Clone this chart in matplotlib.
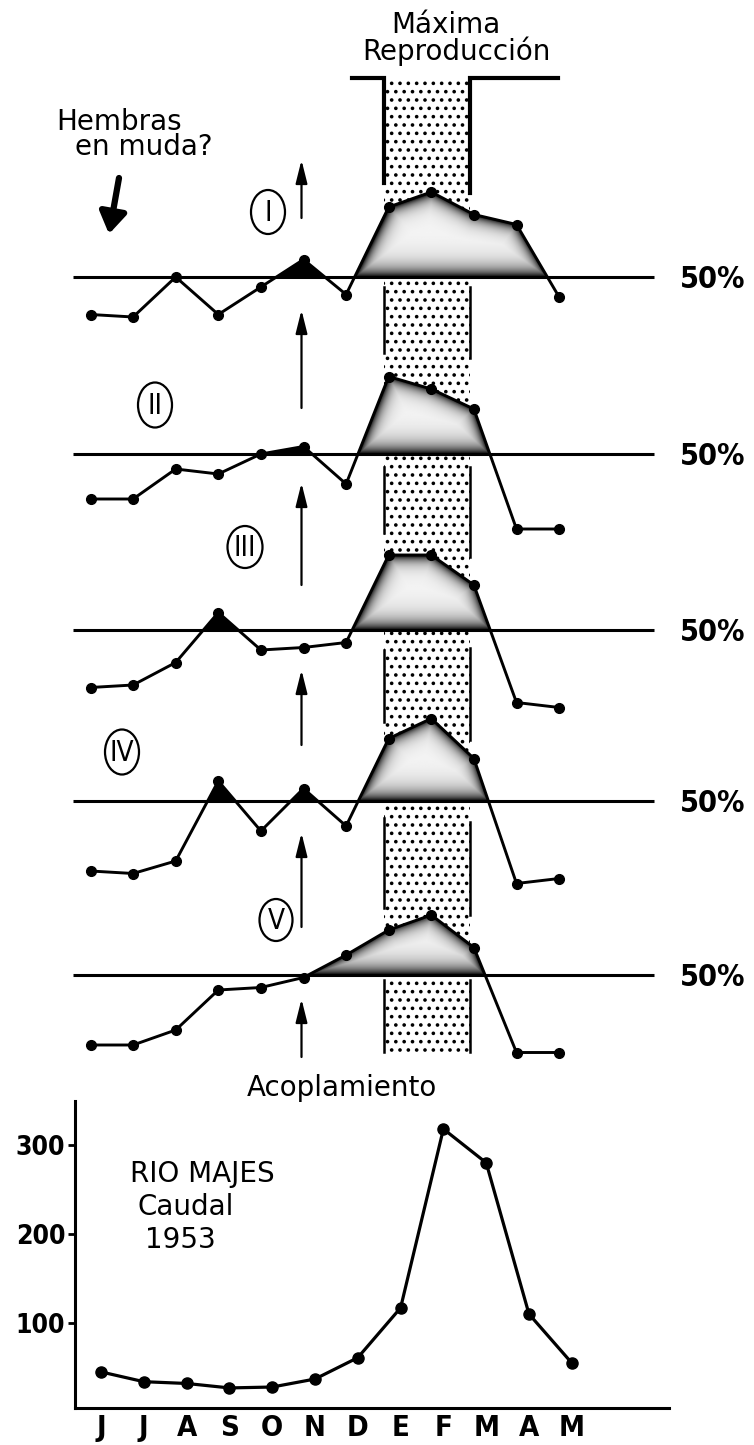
import numpy as np
import matplotlib
matplotlib.use("Agg")
import matplotlib.pyplot as plt
from matplotlib.patches import Rectangle, Ellipse, PathPatch

# ---------------------------------------------------------------- data
months = ["J", "J", "A", "S", "O", "N", "D", "E", "F", "M", "A", "M"]

stage_names = ["I", "II", "III", "IV", "V"]
# monthly percentage for each stage (50 % reference line)
stage_I = [35, 34, 50, 35, 46, 57, 43, 78, 84, 75, 71, 42]
stage_II = [32, 32, 44, 42, 50, 53, 38, 81, 76, 68, 20, 20]
stage_III = [27, 28, 37, 57, 42, 43, 45, 80, 80, 68, 21, 19]
stage_IV = [22, 21, 26, 58, 38, 55, 40, 75, 83, 67, 17, 19]
stage_V = [22, 22, 28, 44, 45, 49, 58, 68, 74, 61, 19, 19]
stages = [stage_I, stage_II, stage_III, stage_IV, stage_V]

# Rio Majes discharge, 1953
caudal_1953 = [45, 34, 32, 27, 28, 37, 61, 117, 318, 280, 110, 55]
caudal_ticks = [100, 200, 300]

# ---------------------------------------------------------------- layout
W, H = 754, 1445
fig = plt.figure(figsize=(W / 100, H / 100), dpi=100)
plt.rcParams["font.family"] = ["DejaVu Sans"]
plt.rcParams["font.stretch"] = "condensed"
plt.rcParams["hatch.linewidth"] = 1.4
WORDS = dict(fontstretch="normal", fontsize=20)


def px_axes(x0, y0, x1, y1):
    """Axes placed by pixel box (y measured from the top)."""
    return fig.add_axes([x0 / W, 1 - y1 / H, (x1 - x0) / W, (y1 - y0) / H])


# upper panels: month i sits at X0 + DX * i pixels
X0, DX = 90.5, 42.6


def mpx(i):
    return X0 + DX * i


xlim_top = (-X0 / DX, (W - X0) / DX)

# overlay in pixel units for the annotations
over = px_axes(0, 0, W, H)
over.set_xlim(0, W)
over.set_ylim(H, 0)
over.axis("off")

# ---------------------------------------------------------------- band
band_left, band_right = mpx(6.9), mpx(8.9)
band_top, band_bottom = 78, 1052
over.add_patch(Rectangle((band_left, band_top), band_right - band_left,
                         band_bottom - band_top, facecolor="none",
                         edgecolor="black", linewidth=0, hatch="..", zorder=1))
over.plot([mpx(6.15), band_left, band_left], [band_top, band_top, 183],
          color="black", lw=3, solid_joinstyle="miter")
over.plot([mpx(10.98), band_right, band_right], [band_top, band_top, 193],
          color="black", lw=3, solid_joinstyle="miter")
left_edges = [(287, 353), (467, 533), (650, 722), (818, 908), (980, 1052)]
right_edges = [(287, 358), (467, 557), (648, 740), (822, 915), (980, 1052)]
for y0, y1 in left_edges:
    over.plot([band_left, band_left], [y0, y1], color="black", lw=1.8)
for y0, y1 in right_edges:
    over.plot([band_right, band_right], [y0, y1], color="black", lw=1.8)

over.text(446, 33, "Máxima", ha="center", va="baseline", **WORDS)
over.text(456, 60, "Reproducción", ha="center", va="baseline", **WORDS)

# ---------------------------------------------------------------- notes
over.text(56, 130, "Hembras", ha="left", va="baseline", **WORDS)
over.text(75, 155, "en muda?", ha="left", va="baseline", **WORDS)
over.annotate("", xy=(109, 234), xytext=(119, 178),
              arrowprops=dict(arrowstyle="-|>,head_length=0.7,head_width=0.45",
                              lw=4.5, color="black", shrinkA=0, shrinkB=0,
                              mutation_scale=18))

# arrows marking mating (November)
arrow_spans = [(218, 160), (408, 310), (585, 483), (745, 670), (927, 833),
               (1057, 999)]
xa = mpx(5) - 2
for tail, tip in arrow_spans:
    over.annotate("", xy=(xa, tip), xytext=(xa, tail),
                  arrowprops=dict(arrowstyle="-|>,head_length=1.0,head_width=0.25",
                                  lw=1.6, color="black", shrinkA=0, shrinkB=0,
                                  mutation_scale=14))
over.text(342, 1096, "Acoplamiento", ha="center", va="baseline", **WORDS)

# circled stage numbers
circles = [(268, 212, 34, 44), (155, 405, 34, 45), (245, 547, 35, 42),
           (122, 752, 34, 45), (276, 920, 33, 42)]
for name, (cx, cy, w, h) in zip(stage_names, circles):
    over.add_patch(Ellipse((cx, cy), w, h, facecolor="white",
                           edgecolor="black", lw=1.6, zorder=3))
    over.text(cx, cy + 1, name, ha="center", va="center", fontsize=20,
              zorder=4)


# ---------------------------------------------------------------- panels
def shade_region(ax, path):
    """Airbrush-like fill: dark at the outline, pale in the middle."""
    v = ax.transData.transform(path.vertices)
    xmin, ymin = v.min(axis=0)
    xmax, ymax = v.max(axis=0)
    nx = max(int(xmax - xmin) + 2, 2)
    ny = max(int(ymax - ymin) + 2, 2)
    gx, gy = np.meshgrid(np.linspace(xmin, xmax, nx),
                         np.linspace(ymin, ymax, ny))
    d = np.full(gx.shape, np.inf)
    for a, b in zip(v[:-1], v[1:]):
        ab = b - a
        L = ab @ ab
        if L == 0:
            continue
        t = np.clip(((gx - a[0]) * ab[0] + (gy - a[1]) * ab[1]) / L, 0, 1)
        d = np.minimum(d, np.hypot(gx - (a[0] + t * ab[0]),
                                   gy - (a[1] + t * ab[1])))
    db = gy - ymin
    dark = np.maximum(np.exp(-d / 6.5), 0.97 * np.exp(-db / 9.0))
    gray = 0.96 * (1 - dark)
    inv = ax.transData.inverted()
    (dx0, dy0), (dx1, dy1) = inv.transform([(xmin, ymin), (xmax, ymax)])
    im = ax.imshow(gray, cmap="gray", vmin=0, vmax=1, origin="lower",
                   extent=(dx0, dx1, dy0, dy1), aspect="auto",
                   interpolation="bilinear", zorder=2)
    im.set_clip_path(path, transform=ax.transData)


PX_PER_PCT = 2.5
line_y = [277, 454, 630, 801, 975]
HALF = 110
xs = np.arange(len(months))

for vals, ly in zip(stages, line_y):
    ax = px_axes(0, ly - HALF, W, ly + HALF)
    ax.set_xlim(*xlim_top)
    ax.set_ylim(50 - HALF / PX_PER_PCT, 50 + HALF / PX_PER_PCT)
    ax.axis("off")
    ax.patch.set_alpha(0)
    y = np.asarray(vals, dtype=float)
    coll = ax.fill_between(xs, y, 50, where=y >= 50, interpolate=True,
                           facecolor="none", edgecolor="none")
    for p in coll.get_paths():
        if np.ptp(p.vertices[:, 0]) > 1.5:
            shade_region(ax, p)
        else:
            ax.add_patch(PathPatch(p, facecolor="black", edgecolor="black",
                                   lw=0.5, zorder=2))
    coll.remove()
    ax.hlines(50, -0.42, 13.22, color="black", lw=2.2, zorder=3)
    ax.plot(xs, y, "-o", color="black", lw=2.1, ms=7, zorder=4,
            clip_on=False)
    ax.text(14.6, 49, "50%", ha="center", va="center", fontsize=22,
            fontweight="bold")

# ---------------------------------------------------------------- discharge
bx = px_axes(75, 1100.5, 669, 1407.5)
bx.set_facecolor("none")
bx.set_xlim((75 - 101) / 42.8, (669 - 101) / 42.8)
bx.set_ylim(5, 350)
bx.plot(xs, caudal_1953, "-o", color="black", lw=2.3, ms=8, clip_on=False)
for s in ("top", "right"):
    bx.spines[s].set_visible(False)
for s in ("left", "bottom"):
    bx.spines[s].set_linewidth(2.2)
bx.set_xticks(xs)
bx.set_xticklabels(months, fontsize=21, fontweight="bold")
bx.tick_params(axis="x", length=0, pad=5)
bx.set_yticks(caudal_ticks)
bx.set_yticklabels([str(t) for t in caudal_ticks], fontsize=19,
                   fontweight="bold")
bx.tick_params(axis="y", length=5, width=2, pad=2)
bx.text(202, 1182, "RIO MAJES", transform=over.transData, ha="center",
        va="baseline", **WORDS)
bx.text(186, 1215, "Caudal", transform=over.transData, ha="center",
        va="baseline", **WORDS)
bx.text(180, 1248, "1953", transform=over.transData, ha="center",
        va="baseline", **WORDS)

fig.savefig("out.png", dpi=100)
